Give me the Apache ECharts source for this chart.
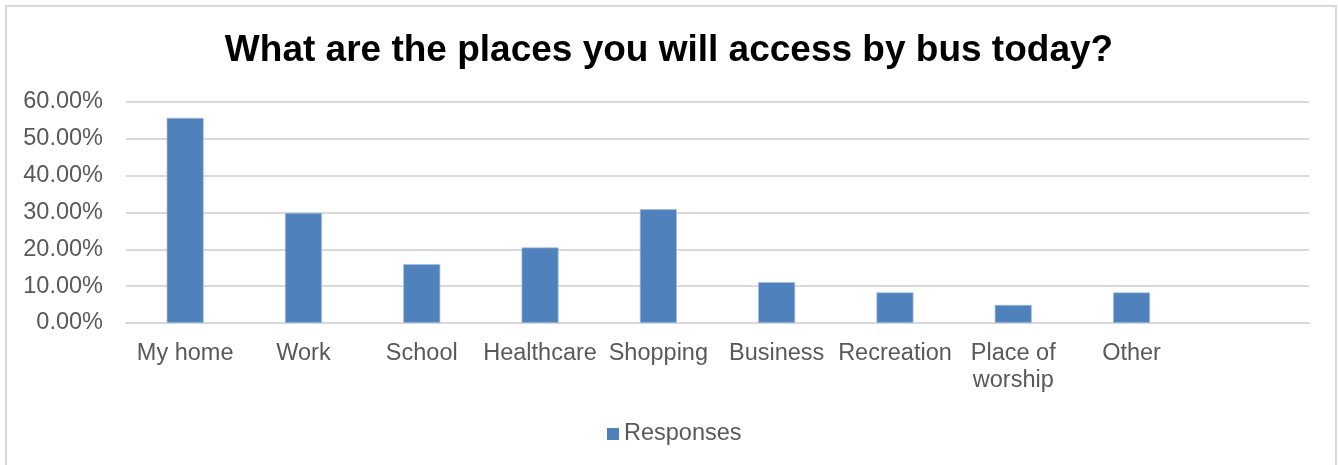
<!DOCTYPE html>
<html>
<head>
<meta charset="utf-8">
<script src="https://cdn.jsdelivr.net/npm/echarts@6/dist/echarts.min.js"></script>
<style>
html,body{margin:0;padding:0;background:#fff;}
#c{width:1338px;height:465px;}
</style>
</head>
<body>
<div id="c"></div>
<script>
const categories = ['My home', 'Work', 'School', 'Healthcare', 'Shopping', 'Business', 'Recreation', 'Place of\nworship', 'Other', ''];
const responses = [55.7, 29.9, 16.0, 20.5, 30.9, 11.1, 8.3, 4.9, 8.3, null];
const yTicks = { min: 0, max: 60, interval: 10 };

const chart = echarts.init(document.getElementById('c'), null, { renderer: 'canvas' });
chart.setOption({
  animation: false,
  backgroundColor: '#fff',
  textStyle: { fontFamily: 'Liberation Sans, Arial, sans-serif' },
  graphic: [{
    type: 'rect',
    shape: { x: 6, y: 6, width: 1330, height: 470 },
    style: { fill: 'none', stroke: '#d9d9d9', lineWidth: 2 },
    silent: true
  }],
  title: {
    text: 'What are the places you will access by bus today?',
    left: 'center',
    top: 27,
    textStyle: { fontSize: 37, fontWeight: 'bold', color: '#000', fontFamily: 'Liberation Sans, Arial, sans-serif' }
  },
  legend: {
    bottom: 14,
    left: 602,
    itemWidth: 12,
    itemHeight: 12,
    itemGap: 4,
    icon: 'rect',
    itemStyle: { borderWidth: 0 },
    textStyle: { fontSize: 23.5, color: '#595959', padding: [0, 0, 0, 0] },
    data: ['Responses']
  },
  grid: { left: 126, right: 29, top: 102, bottom: 142, containLabel: false },
  xAxis: {
    type: 'category',
    data: categories,
    axisLine: { show: true, lineStyle: { color: '#d9d9d9', width: 2 } },
    axisTick: { show: false },
    axisLabel: { fontSize: 23.5, color: '#595959', margin: 17, lineHeight: 27, interval: 0 }
  },
  yAxis: {
    type: 'value',
    min: yTicks.min, max: yTicks.max, interval: yTicks.interval,
    axisLine: { show: false },
    axisTick: { show: false },
    splitLine: { lineStyle: { color: '#d9d9d9', width: 2 } },
    axisLabel: { fontSize: 23.5, color: '#595959', margin: 23, formatter: v => v.toFixed(2) + '%' }
  },
  series: [{
    name: 'Responses',
    type: 'bar',
    data: responses,
    barWidth: 37,
    itemStyle: { color: '#4f81bd', borderColor: '#a7bfdf', borderWidth: 0.7 }
  }]
});
</script>
</body>
</html>
